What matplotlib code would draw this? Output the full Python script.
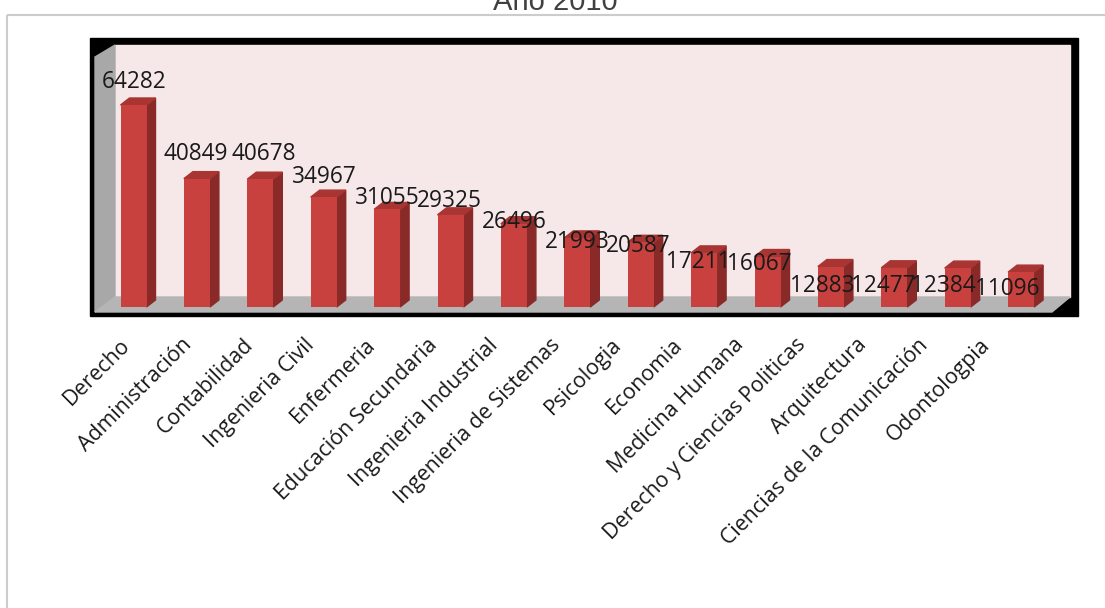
"""
Año 2010 - bar chart by career
"""

import matplotlib
matplotlib.use("Agg")
import matplotlib.pyplot as plt
from matplotlib.patches import Polygon, Rectangle


OUTPUT_FILE = "out.png"

TITLE = "Año 2010"

careers = [
    "Derecho",
    "Administración",
    "Contabilidad",
    "Ingenieria Civil",
    "Enfermeria",
    "Educación Secundaria",
    "Ingenieria Industrial",
    "Ingenieria de Sistemas",
    "Psicologia",
    "Economia",
    "Medicina Humana",
    "Derecho y Ciencias Politicas",
    "Arquitectura",
    "Ciencias de la Comunicación",
    "Odontologpia",
]

students = [
    64282, 40849, 40678, 34967, 31055,
    29325, 26496, 21993, 20587, 17211,
    16067, 12883, 12477, 12384, 11096,
]


# label nudges in pixels (the original labels were moved by hand)
label_dx = [1, -1, 3, 1, 0, -1, 0, 0, -3, -6, -8, -9, -11, -14, -14]
label_dy = [-17, -19, -19, -14, -5, -8, 4, 10, 10, 15, 13, 25, 24, 24, 23]

W, H, DPI = 1105, 608, 100

FRONT = "#c8413e"
SIDE = "#8a2a28"
TOP = "#a93532"


def main():

    fig = plt.figure(figsize=(W / DPI, H / DPI), dpi=DPI)


    # background drawn in pixel units
    bg = fig.add_axes([0, 0, 1, 1])
    bg.set_xlim(0, W)
    bg.set_ylim(H, 0)
    bg.axis("off")

    bg.add_patch(Rectangle((7, 15), 1200, 700, fill=False,
                           edgecolor="#cccccc", linewidth=1.5))
    bg.add_patch(Rectangle((90, 38), 988, 278, color="black"))
    bg.add_patch(Rectangle((115, 45), 955, 252, color="#f6e8e8"))
    bg.add_patch(Polygon([(95, 57), (115, 45), (115, 297), (95, 312)],
                         closed=True, color="#a8a8a8"))
    bg.add_patch(Polygon([(95, 312), (115, 297), (1070, 297), (1052, 312)],
                         closed=True, color="#b5b5b5"))


    # data axes over the back wall
    left, right, top, bottom = 115, 1070, 45, 312
    ax = fig.add_axes([left / W, (H - bottom) / H,
                       (right - left) / W, (bottom - top) / H])
    ax.patch.set_alpha(0)

    step_px = 63.4
    first_px = 133.5
    px_per_unit = 202 / 64282

    ax.set_xlim((left - first_px) / step_px, (right - first_px) / step_px)
    y0 = -5 / px_per_unit
    ax.set_ylim(y0, y0 + (bottom - top) / px_per_unit)

    for side in ax.spines.values():
        side.set_visible(False)
    ax.set_yticks([])


    x = list(range(len(students)))
    width = 26 / step_px
    dx = 9 / step_px
    dy = 7 / px_per_unit

    ax.bar(x, students, width=width, color=FRONT, zorder=3)

    for xi, v in zip(x, students):
        r = xi + width / 2
        l = xi - width / 2
        ax.add_patch(Polygon([(r, 0), (r + dx, dy), (r + dx, v + dy), (r, v)],
                             closed=True, color=SIDE, zorder=2))
        ax.add_patch(Polygon([(l, v), (r, v), (r + dx, v + dy), (l + dx, v + dy)],
                             closed=True, color=TOP, zorder=2))


    for xi, v, ox, oy in zip(x, students, label_dx, label_dy):
        ax.annotate(
            str(v),
            (xi, v),
            xytext=(ox * 0.72, -oy * 0.72),
            textcoords="offset points",
            ha="center",
            va="baseline",
            fontsize=16.3,
            family="Open Sans",
            color="#1a1a1a",
            zorder=5,
            annotation_clip=False,
        )


    # tick labels sit on a slightly tighter spacing than the bars
    tick_pos = [(127 + 61.4 * i - first_px) / step_px for i in x]
    ax.set_xticks(tick_pos)
    ax.set_xticklabels(careers, rotation=45, ha="right", va="center",
                       rotation_mode="anchor", fontsize=15.4,
                       family="Open Sans", color="#1a1a1a")
    ax.tick_params(axis="x", length=0, pad=21.5)


    fig.text(555 / W, 1 - 10 / H, TITLE, ha="center", va="baseline",
             fontsize=21, family="Liberation Sans", color="#404040")


    fig.savefig(OUTPUT_FILE, dpi=DPI)

    plt.close(fig)

    print("Saved:", OUTPUT_FILE)


if __name__ == "__main__":
    main()
